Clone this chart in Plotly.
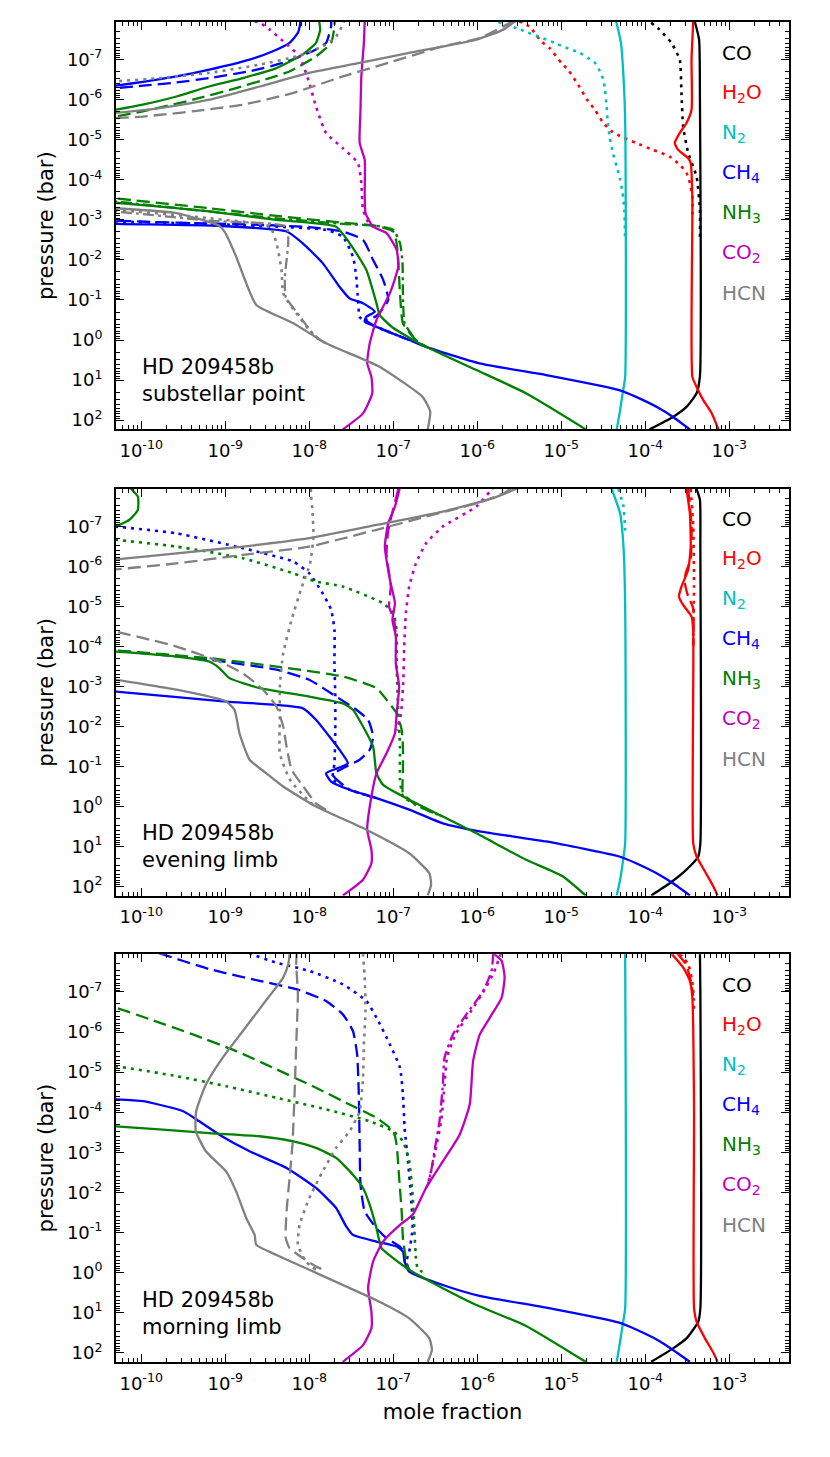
import numpy as np
import plotly.graph_objects as go

# curves are (log10 mole fraction, log10 pressure[bar]) pairs,
# None breaks a line where it leaves the plot on the left

# ---------- substellar point ----------
sub_co = [(-3.41, -7.94), (-3.36, -7.5), (-3.35, -6.0), (-3.35, 0.9), (-3.39, 1.33), (-3.51, 1.67), (-3.67, 1.92), (-3.95, 2.23)]
sub_co_dot = [(-3.93, -7.92), (-3.83, -7.75), (-3.69, -7.42), (-3.59, -7.0), (-3.57, -6.17), (-3.55, -5.33), (-3.49, -4.67), (-3.39, -4.08), (-3.35, -3.25), (-3.35, -2.5)]
sub_h2o = [(-3.43, -7.94), (-3.45, -7.0), (-3.45, -5.75), (-3.51, -5.42), (-3.59, -5.17), (-3.65, -4.92), (-3.61, -4.75), (-3.49, -4.54), (-3.46, -4.42), (-3.44, -3.5), (-3.44, 0.92), (-3.39, 1.17), (-3.31, 1.5), (-3.21, 1.83), (-3.13, 2.23)]
sub_h2o_dot = [(-5.5, -7.96), (-5.38, -7.83), (-5.24, -7.46), (-5.14, -7.29), (-5.0, -6.92), (-4.92, -6.75), (-4.80, -6.375), (-4.68, -5.96), (-4.60, -5.75), (-4.50, -5.42), (-4.40, -5.21), (-4.31, -5.1), (-4.11, -4.92), (-3.91, -4.75), (-3.71, -4.58), (-3.59, -4.375), (-3.51, -4.17), (-3.47, -3.92), (-3.44, -3.58), (-3.44, -3.0)]
sub_n2 = [(-4.345, -7.94), (-4.29, -7.42), (-4.26, -6.58), (-4.24, -5.5), (-4.24, 0.92), (-4.27, 1.33), (-4.30, 1.75), (-4.34, 2.23)]
sub_n2_dot = [(-5.75, -7.94), (-5.52, -7.775), (-5.08, -7.42), (-4.98, -7.33), (-4.78, -7.17), (-4.68, -7.04), (-4.60, -6.92), (-4.54, -6.71), (-4.50, -6.5), (-4.48, -6.25), (-4.46, -5.83), (-4.45, -5.5), (-4.425, -5.08), (-4.385, -4.67), (-4.34, -4.33), (-4.30, -4.0), (-4.27, -3.67), (-4.25, -3.25), (-4.24, -2.5)]
sub_ch4 = [(-8.10, -8.2), (-8.107, -7.92), (-8.135, -7.67), (-8.234, -7.42), (-8.433, -7.21), (-8.71, -7.0), (-9.19, -6.75), (-9.58, -6.58), (-9.94, -6.46), (-10.30, -6.35), (-10.5, -6.3), None,
           (-10.5, -2.92), (-10.31, -2.9), (-9.07, -2.85), (-8.27, -2.71), (-8.08, -2.42), (-7.84, -1.92), (-7.64, -1.33), (-7.52, -1.04), (-7.36, -0.92), (-7.22, -0.71), (-7.32, -0.58), (-7.34, -0.46), (-7.20, -0.33), (-6.81, 0.0), (-6.61, 0.17), (-5.975, 0.58), (-5.18, 0.875), (-4.31, 1.25), (-4.11, 1.42), (-3.83, 1.71), (-3.67, 1.92), (-3.47, 2.23)]
sub_ch4_dash = [(-7.74, -8.1), (-7.74, -7.83), (-7.80, -7.42), (-7.96, -7.21), (-8.31, -6.92), (-8.71, -6.71), (-9.19, -6.54), (-9.58, -6.43), (-9.98, -6.35), (-10.30, -6.29), (-10.5, -6.26), None,
                (-10.5, -3.0), (-10.31, -2.98), (-9.58, -2.93), (-8.59, -2.875), (-8.0, -2.82), (-7.60, -2.71), (-7.36, -2.5), (-7.24, -2.0), (-7.12, -1.5), (-7.06, -1.0), (-7.2, -0.6), (-7.32, -0.5), (-7.20, -0.33), (-6.81, 0.0)]
sub_ch4_dot = [(-10.5, -2.97), (-10.31, -2.96), (-9.19, -2.9), (-8.39, -2.83), (-7.80, -2.75), (-7.60, -2.58), (-7.48, -2.08), (-7.44, -1.58), (-7.42, -1.0), (-7.40, -0.58), (-7.34, -0.46), (-7.20, -0.33), (-6.81, 0.0)]
sub_nh3 = [(-7.88, -8.2), (-7.88, -7.94), (-7.87, -7.75), (-7.92, -7.42), (-8.08, -7.125), (-8.39, -6.79), (-8.79, -6.54), (-9.19, -6.33), (-9.58, -6.08), (-9.98, -5.875), (-10.30, -5.75), (-10.5, -5.68), None,
           (-10.5, -3.45), (-10.31, -3.43), (-9.19, -3.21), (-8.39, -3.0), (-7.68, -2.83), (-7.52, -2.42), (-7.32, -1.75), (-7.20, -0.92), (-7.16, -0.62), (-7.0, -0.3), (-6.61, 0.17), (-6.01, 0.75), (-5.42, 1.33), (-4.71, 2.23)]
sub_nh3_dash = [(-7.70, -8.2), (-7.70, -7.83), (-7.74, -7.42), (-7.92, -7.08), (-8.23, -6.71), (-8.47, -6.54), (-8.87, -6.29), (-9.385, -6.0), (-9.98, -5.71), (-10.30, -5.58), (-10.5, -5.5), None,
                (-10.5, -3.6), (-10.31, -3.54), (-9.19, -3.29), (-8.39, -3.1), (-7.60, -2.93), (-7.20, -2.85), (-7.0, -2.71), (-6.96, -2.42), (-6.94, -1.92), (-6.92, -1.17), (-6.885, -0.42), (-6.73, 0.0), (-6.61, 0.17)]
sub_nh3_dashdot = [(-10.5, -3.5), (-10.31, -3.46), (-9.19, -3.21), (-8.39, -3.04), (-7.60, -2.9), (-7.20, -2.85), (-7.0, -2.75), (-6.92, -2.42), (-6.89, -1.92), (-6.885, -1.17), (-6.865, -0.42), (-6.73, 0.0), (-6.61, 0.17)]
sub_co2 = [(-7.34, -7.94), (-7.35, -7.42), (-7.38, -6.58), (-7.39, -5.75), (-7.40, -4.92), (-7.34, -4.5), (-7.34, -3.67), (-7.33, -3.17), (-7.24, -2.83), (-7.08, -2.67), (-6.96, -2.25), (-6.94, -1.83), (-7.04, -1.17), (-7.20, -0.5), (-7.28, 0.08), (-7.31, 0.58), (-7.26, 0.92), (-7.25, 1.33), (-7.36, 1.83), (-7.60, 2.23)]
sub_co2_dot = [(-8.65, -7.96), (-8.59, -7.92), (-8.47, -7.75), (-8.31, -7.46), (-8.115, -7.08), (-8.0, -6.42), (-7.92, -5.83), (-7.80, -5.17), (-7.60, -4.79), (-7.42, -4.42), (-7.38, -3.92), (-7.36, -3.25), (-7.28, -2.875), (-7.2, -2.8)]
sub_hcn = [(-5.50, -8.0), (-5.56, -7.94), (-5.69, -7.75), (-6.01, -7.5), (-6.81, -7.17), (-7.40, -6.92), (-8.0, -6.67), (-8.59, -6.33), (-9.19, -6.0), (-9.78, -5.79), (-10.30, -5.67), (-10.5, -5.64), None,
           (-10.5, -3.31), (-10.31, -3.29), (-9.58, -3.17), (-9.07, -2.85), (-9.01, -2.71), (-8.87, -2.08), (-8.75, -1.42), (-8.63, -0.875), (-8.19, -0.42), (-7.80, 0.08), (-7.18, 0.65), (-6.65, 1.42), (-6.56, 1.79), (-6.59, 2.23)]
sub_hcn_dash = [(-5.58, -8.0), (-5.615, -7.92), (-5.97, -7.54), (-6.41, -7.33), (-7.0, -6.96), (-7.60, -6.58), (-8.19, -6.17), (-8.79, -5.875), (-9.385, -5.71), (-9.98, -5.58), (-10.30, -5.54), (-10.5, -5.52)]
sub_hcn_dot = [(-7.58, -8.0), (-7.60, -7.875), (-7.68, -7.58), (-7.84, -7.33), (-8.155, -7.08), (-8.59, -6.875), (-9.19, -6.67), (-9.78, -6.54), (-10.30, -6.46), (-10.5, -6.44), None,
               (-10.5, -3.27), (-10.31, -3.25), (-9.19, -3.04), (-8.47, -2.83), (-8.39, -2.42), (-8.33, -1.75), (-8.31, -1.17), (-8.21, -0.83), (-8.0, -0.25), (-7.88, 0.0), (-7.80, 0.08)]
sub_hcn_dashdot = [(-10.5, -3.23), (-10.31, -3.21), (-9.19, -2.98), (-8.27, -2.83), (-8.25, -2.42), (-8.29, -1.58), (-8.28, -1.08), (-8.155, -0.71), (-7.96, -0.17), (-7.84, 0.04), (-7.80, 0.08)]

# ---------- evening limb ----------
eve_co = [(-3.39, -7.94), (-3.35, -7.67), (-3.345, -6.5), (-3.345, 0.92), (-3.37, 1.25), (-3.51, 1.58), (-3.71, 1.92), (-3.93, 2.225)]
eve_h2o = [(-3.51, -7.94), (-3.47, -7.33), (-3.46, -6.5), (-3.49, -5.92), (-3.57, -5.5), (-3.60, -5.25), (-3.55, -5.04), (-3.45, -4.75), (-3.43, -4.42), (-3.43, 0.92), (-3.39, 1.25), (-3.29, 1.625), (-3.19, 2.0), (-3.14, 2.225)]
eve_h2o_dash = [(-3.49, -7.94), (-3.45, -7.0), (-3.46, -6.2), (-3.52, -5.83), (-3.53, -5.6), (-3.49, -5.25), (-3.43, -4.96), (-3.43, -4.0)]
eve_h2o_dot = [(-3.46, -7.94), (-3.43, -7.0), (-3.42, -5.5), (-3.43, -4.5), (-3.43, -4.0)]
eve_n2 = [(-4.40, -7.94), (-4.30, -7.33), (-4.26, -6.5), (-4.24, -5.0), (-4.24, 0.92), (-4.27, 1.42), (-4.30, 1.83), (-4.34, 2.225)]
eve_n2_dot = [(-4.32, -7.94), (-4.26, -7.5), (-4.24, -6.9)]
eve_ch4 = [(-10.5, -2.89), (-10.31, -2.875), (-8.99, -2.625), (-8.08, -2.46), (-7.92, -2.17), (-7.76, -1.75), (-7.64, -1.42), (-7.54, -1.08), (-7.66, -0.96), (-7.80, -0.83), (-7.74, -0.625), (-7.52, -0.42), (-7.20, -0.21), (-6.81, 0.08), (-6.41, 0.42), (-5.975, 0.62), (-5.18, 0.875), (-4.31, 1.25), (-4.11, 1.42), (-3.83, 1.71), (-3.67, 1.92), (-3.47, 2.225)]
eve_ch4_dash = [(-10.5, -3.92), (-10.31, -3.9), (-9.19, -3.67), (-8.39, -3.42), (-8.0, -3.17), (-7.68, -2.75), (-7.44, -2.42), (-7.30, -2.17), (-7.24, -1.75), (-7.28, -1.42), (-7.40, -1.17), (-7.56, -1.0), (-7.72, -0.79), (-7.60, -0.54), (-7.52, -0.42), (-7.20, -0.21)]
eve_ch4_dot = [(-10.5, -7.02), (-10.31, -7.0), (-9.58, -6.83), (-8.79, -6.46), (-8.19, -6.125), (-8.0, -5.83), (-7.84, -5.33), (-7.74, -4.92), (-7.70, -4.42), (-7.70, -3.58), (-7.69, -2.75), (-7.69, -1.92), (-7.70, -1.08), (-7.72, -0.67), (-7.60, -0.54), (-7.52, -0.42), (-7.20, -0.21)]
eve_nh3 = [(-10.5, -6.95), (-10.31, -7.0), (-10.14, -7.17), (-10.04, -7.42), (-10.04, -7.75), (-10.12, -7.94), (-10.2, -8.1), None,
           (-10.5, -3.9), (-10.31, -3.875), (-9.58, -3.75), (-9.19, -3.625), (-9.07, -3.46), (-8.95, -3.21), (-8.59, -2.96), (-8.0, -2.75), (-7.60, -2.58), (-7.48, -2.42), (-7.36, -2.0), (-7.24, -1.5), (-7.20, -0.83), (-7.12, -0.54), (-6.81, -0.17), (-6.41, 0.25), (-6.01, 0.67), (-5.42, 1.33), (-4.98, 1.75), (-4.71, 2.225)]
eve_nh3_dash = [(-10.5, -3.92), (-10.31, -3.9), (-9.19, -3.71), (-8.39, -3.5), (-7.60, -3.25), (-7.20, -2.96), (-7.08, -2.67), (-6.96, -2.33), (-6.90, -1.92), (-6.885, -1.5), (-6.885, -0.83), (-6.885, -0.33), (-6.73, -0.04), (-6.41, 0.25)]
eve_nh3_dot = [(-10.5, -6.69), (-10.31, -6.67), (-9.58, -6.5), (-8.79, -6.21), (-8.19, -5.83), (-7.92, -5.625), (-7.60, -5.5), (-7.12, -5.08), (-7.0, -4.83), (-6.96, -4.42), (-6.96, -3.58), (-6.94, -2.33), (-6.92, -1.5), (-6.92, -0.67), (-6.885, -0.25), (-6.73, -0.04), (-6.41, 0.25)]
eve_co2 = [(-6.925, -7.94), (-6.98, -7.5), (-7.06, -7.08), (-7.10, -6.5), (-7.04, -5.67), (-6.98, -5.08), (-7.01, -4.67), (-6.97, -4.25), (-6.97, -3.58), (-6.93, -3.0), (-6.96, -2.33), (-6.98, -1.83), (-7.08, -1.33), (-7.20, -0.83), (-7.26, -0.25), (-7.31, 0.58), (-7.26, 1.08), (-7.26, 1.42), (-7.36, 1.83), (-7.60, 2.225)]
eve_co2_dash = [(-6.94, -7.94), (-7.06, -6.9), (-7.08, -6.3), (-7.03, -5.5), (-7.05, -5.0), (-6.99, -4.67), (-6.97, -4.25)]
eve_co2_dot = [(-5.80, -8.0), (-5.85, -7.875), (-6.01, -7.5), (-6.41, -7.0), (-6.61, -6.58), (-6.73, -6.08), (-6.81, -5.5), (-6.85, -4.83), (-6.87, -4.0), (-6.88, -3.17), (-6.90, -2.5), (-6.92, -2.17), (-6.96, -1.9)]
eve_hcn = [(-5.45, -8.0), (-5.54, -7.94), (-5.81, -7.71), (-6.41, -7.375), (-7.20, -7.04), (-8.0, -6.71), (-8.79, -6.5), (-9.58, -6.33), (-10.30, -6.18), (-10.5, -6.15), None,
           (-10.5, -3.2), (-10.31, -3.17), (-9.58, -2.92), (-8.99, -2.625), (-8.89, -2.42), (-8.83, -1.83), (-8.71, -1.17), (-8.51, -0.83), (-8.31, -0.5), (-7.92, 0.0), (-7.32, 0.58), (-6.81, 1.17), (-6.57, 1.67), (-6.55, 1.96), (-6.59, 2.225)]
eve_hcn_dash = [(-5.6, -7.95), (-5.69, -7.83), (-6.01, -7.58), (-6.61, -7.25), (-7.20, -6.92), (-8.0, -6.5), (-8.79, -6.29), (-9.58, -6.08), (-10.30, -5.93), (-10.5, -5.9), None,
                (-10.5, -4.42), (-10.31, -4.375), (-9.58, -4.0), (-9.07, -3.625), (-8.79, -3.33), (-8.55, -2.92), (-8.39, -2.5), (-8.31, -2.0), (-8.27, -1.5), (-8.21, -0.92), (-8.07, -0.5), (-7.92, -0.08), (-7.80, 0.08)]
eve_hcn_dot = [(-7.98, -7.94), (-7.98, -7.83), (-7.96, -7.33), (-7.95, -6.75), (-7.99, -6.08), (-8.10, -5.42), (-8.21, -4.67), (-8.31, -3.83), (-8.35, -3.0), (-8.35, -2.17), (-8.35, -1.33), (-8.23, -0.67), (-8.0, -0.125), (-7.92, 0.0)]

# ---------- morning limb ----------
mor_co = [(-3.35, -7.96), (-3.345, -7.0), (-3.345, 0.89), (-3.37, 1.225), (-3.51, 1.64), (-3.67, 1.89), (-3.93, 2.225)]
mor_h2o = [(-3.69, -7.96), (-3.55, -7.61), (-3.47, -7.275), (-3.44, -6.86), (-3.43, -6.11), (-3.42, -4.03), (-3.42, 0.89), (-3.39, 1.225), (-3.29, 1.64), (-3.19, 2.0), (-3.14, 2.225)]
mor_h2o_dash = [(-3.62, -7.96), (-3.52, -7.7), (-3.46, -7.3), (-3.43, -6.9)]
mor_h2o_dot = [(-3.59, -7.96), (-3.49, -7.69), (-3.45, -7.36), (-3.43, -7.03), (-3.42, -6.5)]
mor_n2 = [(-4.24, -7.96), (-4.24, 0.89), (-4.27, 1.31), (-4.30, 1.72), (-4.34, 2.225)]
mor_ch4 = [(-10.5, -4.33), (-10.31, -4.32), (-9.98, -4.275), (-9.50, -4.025), (-9.31, -3.775), (-9.07, -3.44), (-8.71, -3.025), (-8.27, -2.61), (-7.92, -2.11), (-7.68, -1.61), (-7.56, -1.15), (-7.48, -0.94), (-7.20, -0.775), (-6.96, -0.65), (-6.885, -0.525), (-6.865, -0.275), (-6.81, -0.025), (-6.41, 0.31), (-5.975, 0.58), (-5.18, 0.875), (-4.31, 1.25), (-4.11, 1.42), (-3.83, 1.71), (-3.67, 1.93), (-3.47, 2.225)]
mor_ch4_dash = [(-10.0, -8.1), (-9.78, -7.96), (-9.19, -7.57), (-8.59, -7.275), (-8.155, -7.07), (-7.80, -6.775), (-7.60, -6.44), (-7.48, -6.025), (-7.43, -5.44), (-7.41, -4.44), (-7.40, -3.19), (-7.39, -2.19), (-7.34, -1.525), (-7.20, -1.11), (-7.08, -0.86), (-6.92, -0.65), (-6.865, -0.48), (-6.865, -0.275)]
mor_ch4_dot = [(-8.8, -8.05), (-8.71, -7.96), (-8.39, -7.73), (-8.0, -7.525), (-7.60, -7.19), (-7.32, -6.775), (-7.20, -6.36), (-7.04, -5.69), (-6.92, -5.11), (-6.885, -4.44), (-6.865, -3.61), (-6.825, -2.775), (-6.79, -1.94), (-6.77, -1.11), (-6.81, -0.525), (-6.845, -0.275), (-6.81, -0.025)]
mor_nh3 = [(-10.5, -3.67), (-10.31, -3.65), (-9.19, -3.48), (-8.59, -3.40), (-8.19, -3.275), (-7.92, -3.11), (-7.68, -2.86), (-7.48, -2.44), (-7.36, -2.11), (-7.28, -1.69), (-7.20, -1.11), (-7.14, -0.61), (-7.0, -0.36), (-6.81, -0.07), (-6.41, 0.39), (-6.01, 0.81), (-5.42, 1.33), (-4.71, 2.225)]
mor_nh3_dash = [(-10.5, -6.67), (-10.31, -6.61), (-9.90, -6.32), (-9.385, -5.94), (-8.87, -5.525), (-8.39, -5.07), (-7.92, -4.61), (-7.52, -4.19), (-7.20, -3.86), (-7.0, -3.525), (-6.96, -3.19), (-6.93, -2.36), (-6.90, -1.525), (-6.885, -0.86), (-6.845, -0.275), (-6.81, -0.07)]
mor_nh3_dot = [(-10.5, -5.17), (-10.31, -5.15), (-9.58, -4.9), (-8.99, -4.65), (-8.39, -4.36), (-7.80, -4.07), (-7.28, -3.775), (-7.0, -3.525), (-6.885, -3.275), (-6.81, -2.775), (-6.77, -1.94), (-6.75, -1.11), (-6.73, -0.36), (-6.71, -0.11), (-6.61, 0.05)]
mor_co2 = [(-5.81, -7.96), (-5.71, -7.775), (-5.675, -7.36), (-5.71, -6.86), (-5.85, -6.36), (-5.97, -5.94), (-6.05, -5.275), (-6.09, -4.19), (-6.21, -3.44), (-6.41, -2.775), (-6.61, -2.11), (-6.77, -1.44), (-6.92, -1.19), (-7.12, -0.775), (-7.24, -0.275), (-7.30, 0.39), (-7.26, 0.975), (-7.26, 1.39), (-7.36, 1.81), (-7.60, 2.225)]
mor_co2_dot = [(-5.72, -7.96), (-5.80, -7.5), (-5.90, -7.1), (-6.08, -6.5), (-6.26, -5.94), (-6.36, -5.36), (-6.39, -4.69), (-6.43, -3.775), (-6.50, -3.025), (-6.55, -2.525), (-6.59, -2.19)]
mor_co2_dashdot = [(-5.81, -7.96), (-5.83, -7.525), (-5.93, -7.025), (-6.13, -6.44), (-6.29, -5.94), (-6.39, -5.36), (-6.41, -4.69), (-6.45, -3.775), (-6.51, -3.025), (-6.55, -2.525), (-6.59, -2.19), (-6.61, -2.11)]
mor_hcn = [(-8.234, -8.0), (-8.234, -7.96), (-8.25, -7.69), (-8.31, -7.36), (-8.55, -6.69), (-8.79, -6.025), (-9.03, -5.36), (-9.23, -4.69), (-9.345, -4.025), (-9.35, -3.525), (-9.23, -3.025), (-8.99, -2.525), (-8.87, -2.025), (-8.75, -1.36), (-8.65, -0.94), (-8.63, -0.69), (-8.39, -0.44), (-8.0, -0.07), (-7.60, 0.31), (-7.20, 0.69), (-6.81, 1.14), (-6.57, 1.64), (-6.54, 1.93), (-6.59, 2.225)]
mor_hcn_dash = [(-8.15, -8.0), (-8.15, -7.96), (-8.155, -7.69), (-8.135, -6.94), (-8.155, -5.69), (-8.175, -4.44), (-8.20, -3.19), (-8.234, -2.36), (-8.27, -1.525), (-8.28, -0.86), (-8.234, -0.61), (-8.075, -0.36), (-7.92, -0.15), (-7.80, -0.05)]
mor_hcn_dot = [(-7.36, -7.96), (-7.34, -7.36), (-7.33, -6.525), (-7.35, -5.69), (-7.36, -4.86), (-7.40, -4.025), (-7.52, -3.525), (-7.68, -3.11), (-7.84, -2.525), (-8.0, -1.86), (-8.115, -1.19), (-8.135, -0.69), (-8.04, -0.275), (-7.92, -0.07)]

species = ["CO", "H2O", "N2", "CH4", "NH3", "CO2", "HCN"]
species_labels = ["CO", "H<sub>2</sub>O", "N<sub>2</sub>", "CH<sub>4</sub>", "NH<sub>3</sub>", "CO<sub>2</sub>", "HCN"]
colors = {"CO": "#000000", "H2O": "#ff0000", "N2": "#00bfbf", "CH4": "#0000ff",
          "NH3": "#008000", "CO2": "#bf00bf", "HCN": "#808080"}
dashes = {"solid": "solid", "dash": "13px,6px", "dot": "3px,5px", "dashdot": "11px,4px,3px,4px"}
widths = {"solid": 2.3, "dash": 2.3, "dot": 2.6, "dashdot": 2.3}

panels = [
    ("HD 209458b<br>substellar point", [
        (sub_co, "CO", "solid"), (sub_co_dot, "CO", "dot"),
        (sub_h2o, "H2O", "solid"), (sub_h2o_dot, "H2O", "dot"),
        (sub_n2, "N2", "solid"), (sub_n2_dot, "N2", "dot"),
        (sub_ch4, "CH4", "solid"), (sub_ch4_dash, "CH4", "dash"), (sub_ch4_dot, "CH4", "dot"),
        (sub_nh3, "NH3", "solid"), (sub_nh3_dash, "NH3", "dash"), (sub_nh3_dashdot, "NH3", "dashdot"),
        (sub_co2, "CO2", "solid"), (sub_co2_dot, "CO2", "dot"),
        (sub_hcn, "HCN", "solid"), (sub_hcn_dash, "HCN", "dash"), (sub_hcn_dot, "HCN", "dot"), (sub_hcn_dashdot, "HCN", "dashdot"),
    ]),
    ("HD 209458b<br>evening limb", [
        (eve_co, "CO", "solid"),
        (eve_h2o, "H2O", "solid"), (eve_h2o_dash, "H2O", "dash"), (eve_h2o_dot, "H2O", "dot"),
        (eve_n2, "N2", "solid"), (eve_n2_dot, "N2", "dot"),
        (eve_ch4, "CH4", "solid"), (eve_ch4_dash, "CH4", "dash"), (eve_ch4_dot, "CH4", "dot"),
        (eve_nh3, "NH3", "solid"), (eve_nh3_dash, "NH3", "dash"), (eve_nh3_dot, "NH3", "dot"),
        (eve_co2, "CO2", "solid"), (eve_co2_dash, "CO2", "dash"), (eve_co2_dot, "CO2", "dot"),
        (eve_hcn, "HCN", "solid"), (eve_hcn_dash, "HCN", "dash"), (eve_hcn_dot, "HCN", "dot"),
    ]),
    ("HD 209458b<br>morning limb", [
        (mor_co, "CO", "solid"),
        (mor_h2o, "H2O", "solid"), (mor_h2o_dash, "H2O", "dash"), (mor_h2o_dot, "H2O", "dot"),
        (mor_n2, "N2", "solid"),
        (mor_ch4, "CH4", "solid"), (mor_ch4_dash, "CH4", "dash"), (mor_ch4_dot, "CH4", "dot"),
        (mor_nh3, "NH3", "solid"), (mor_nh3_dash, "NH3", "dash"), (mor_nh3_dot, "NH3", "dot"),
        (mor_co2, "CO2", "solid"), (mor_co2_dot, "CO2", "dot"), (mor_co2_dashdot, "CO2", "dashdot"),
        (mor_hcn, "HCN", "solid"), (mor_hcn_dash, "HCN", "dash"), (mor_hcn_dot, "HCN", "dot"),
    ]),
]

x_decades = list(range(-10, -2))
y_decades = list(range(-7, 3))
x_minor = [k * 10.0 ** n for n in range(-11, -2) for k in range(2, 10)]
y_minor = [k * 10.0 ** n for n in range(-8, 3) for k in range(2, 10)]

domains = [(0.696, 1.0), (0.348, 0.6515), (0.0, 0.3043)]
FONT = "DejaVu Sans"


def unpack(curve):
    xs, ps = [], []
    for pt in curve:
        if pt is None:
            xs.append(None)
            ps.append(None)
        else:
            xs.append(10 ** pt[0])
            ps.append(10 ** pt[1])
    return xs, ps


fig = go.Figure()
layout = {}
annotations = []
for i, (title, curves) in enumerate(panels):
    n = "" if i == 0 else str(i + 1)
    for curve, sp, style in curves:
        xs, ps = unpack(curve)
        fig.add_trace(go.Scatter(
            x=xs, y=ps, mode="lines", xaxis="x" + n, yaxis="y" + n,
            line=dict(color=colors[sp], width=widths[style], dash=dashes[style], shape="spline", smoothing=0.5),
            showlegend=False, hoverinfo="skip"))

    layout["xaxis" + n] = dict(
        type="log", range=[-10.30, -2.29], domain=[0, 1], anchor="y" + n,
        tickvals=[10.0 ** d for d in x_decades],
        ticktext=["10<sup>%d</sup>" % d for d in x_decades],
        ticks="inside", ticklen=8, tickwidth=1.2, tickcolor="black",
        minor=dict(tickvals=x_minor, ticks="inside", ticklen=4, tickwidth=1, tickcolor="black"),
        showline=True, linewidth=2, linecolor="black", mirror="allticks",
        showgrid=False, zeroline=False, ticklabelstandoff=4,
        tickfont=dict(family=FONT, size=18, color="black"),
        title=dict(text="mole fraction" if i == 2 else "", font=dict(family=FONT, size=21, color="black"), standoff=12),
    )
    layout["yaxis" + n] = dict(
        type="log", range=[2.23, -7.94], domain=list(domains[i]), anchor="x" + n,
        tickvals=[10.0 ** d for d in y_decades],
        ticktext=["10<sup>%d</sup>" % d for d in y_decades],
        ticks="inside", ticklen=8, tickwidth=1.2, tickcolor="black",
        minor=dict(tickvals=y_minor, ticks="inside", ticklen=4, tickwidth=1, tickcolor="black"),
        showline=True, linewidth=2, linecolor="black", mirror="allticks",
        showgrid=False, zeroline=False, ticklabelstandoff=8,
        tickfont=dict(family=FONT, size=18, color="black"),
        title=dict(text="pressure (bar)", font=dict(family=FONT, size=21, color="black"), standoff=8),
    )

    annotations.append(dict(
        text=title, xref="x%s domain" % n, yref="y%s domain" % n, x=0.035, y=0.12,
        xanchor="left", yanchor="middle", align="left", showarrow=False,
        font=dict(family=FONT, size=21, color="black")))
    for j, (sp, lab) in enumerate(zip(species, species_labels)):
        annotations.append(dict(
            text=lab, xref="x%s domain" % n, yref="y%s domain" % n, x=0.898, y=0.925 - j * 0.0983,
            xanchor="left", yanchor="middle", showarrow=False,
            font=dict(family=FONT, size=20, color=colors[sp])))

fig.update_layout(**layout)
# the page body adds an 8 px offset, so the figure is drawn 8 px smaller
fig.update_layout(
    width=822, height=1449,
    margin=dict(l=108, r=41, t=14, b=95),
    plot_bgcolor="white", paper_bgcolor="white",
    annotations=annotations,
    font=dict(family=FONT, color="black"),
)

fig.write_html("out.html")
